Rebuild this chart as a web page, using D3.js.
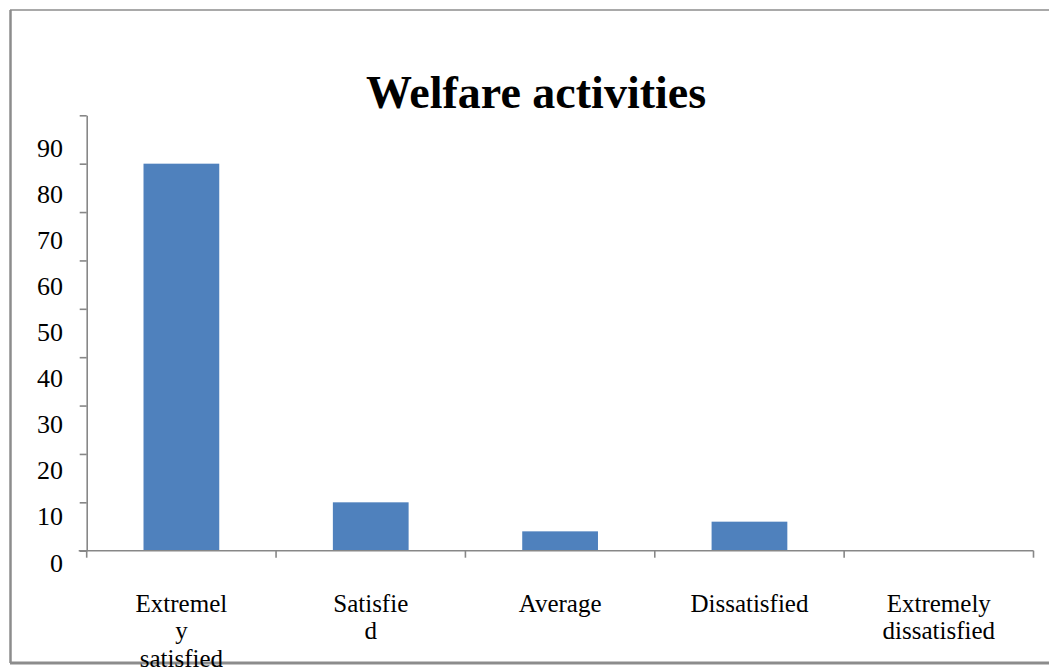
<!DOCTYPE html>
<html>
<head>
<meta charset="utf-8">
<script src="https://cdn.jsdelivr.net/npm/d3@7"></script>
<style>
  html, body { margin: 0; padding: 0; background: #ffffff; }
  svg { display: block; }
  text { font-family: "Liberation Serif", "Times New Roman", serif; fill: #000; }
</style>
</head>
<body>
<svg id="chart" width="1049" height="671"></svg>
<script>
// Survey responses on welfare activities
const categories = ["Extremely satisfied", "Satisfied", "Average", "Dissatisfied", "Extremely dissatisfied"];
const categoryLines = [["Extremel", "y", "satisfied"], ["Satisfie", "d"], ["Average"], ["Dissatisfied"], ["Extremely", "dissatisfied"]];
const values = [80, 10, 4, 6, 0];
const yTicks = [0, 10, 20, 30, 40, 50, 60, 70, 80, 90];
const title = "Welfare activities";

const svg = d3.select("#chart");
const W = 1049, H = 671;

const axisColor = "#878787";
const barColor = "#4F81BD";

// Outer frame: top, left and bottom edges
const frame = svg.append("g").attr("fill", "none").attr("stroke", "#8c8c8c");
frame.append("line").attr("x1", 10).attr("y1", 10).attr("x2", W).attr("y2", 10).attr("stroke-width", 1.5);
frame.append("line").attr("x1", 10.5).attr("y1", 10).attr("x2", 10.5).attr("y2", 663).attr("stroke-width", 2.5);
frame.append("line").attr("x1", 10).attr("y1", 663).attr("x2", W).attr("y2", 663).attr("stroke-width", 3);

// Plot area
const plot = { left: 86.7, right: 1033.5, top: 115.3, bottom: 550.7 };

const x = d3.scaleBand().domain(categories).range([plot.left, plot.right]).paddingInner(0).paddingOuter(0);
const y = d3.scaleLinear().domain([0, 90]).range([plot.bottom, plot.top]);
// Value labels sit on their own, slightly tighter spacing
const yLabel = d3.scaleLinear().domain([0, 90]).range([571.5, 156.5]);

// Title
svg.append("text")
  .attr("x", 536)
  .attr("y", 108)
  .attr("text-anchor", "middle")
  .attr("font-weight", "bold")
  .attr("font-size", 46)
  .text(title);

// Bars
const barW = x.bandwidth() * 0.4;
svg.append("g").selectAll("rect")
  .data(values.map((v, i) => ({ cat: categories[i], v })))
  .join("rect")
  .attr("x", d => x(d.cat) + (x.bandwidth() - barW) / 2)
  .attr("y", d => y(d.v))
  .attr("width", barW)
  .attr("height", d => y(0) - y(d.v))
  .attr("fill", barColor);

// Y axis with outward ticks
const yAxis = svg.append("g")
  .attr("transform", `translate(${plot.left},0)`)
  .call(d3.axisLeft(y).tickValues(yTicks).tickSize(7).tickSizeOuter(0).tickFormat(""));
yAxis.select(".domain").attr("stroke", axisColor).attr("stroke-width", 1.6);
yAxis.selectAll(".tick line").attr("stroke", axisColor).attr("stroke-width", 1.6);

svg.append("g").selectAll("text")
  .data(yTicks)
  .join("text")
  .attr("x", 63)
  .attr("y", d => yLabel(d))
  .attr("text-anchor", "end")
  .attr("font-size", 26)
  .text(d => d);

// X axis: baseline with ticks on category boundaries
const boundaries = categories.map(c => x(c)).concat([x(categories[categories.length - 1]) + x.bandwidth()]);
const xAxis = svg.append("g").attr("transform", `translate(0,${plot.bottom})`);
xAxis.append("line")
  .attr("x1", plot.left - 8).attr("x2", plot.right)
  .attr("y1", 0).attr("y2", 0)
  .attr("stroke", axisColor).attr("stroke-width", 1.6);
xAxis.selectAll("line.tick")
  .data(boundaries)
  .join("line")
  .attr("class", "tick")
  .attr("x1", d => d).attr("x2", d => d)
  .attr("y1", 0).attr("y2", 7)
  .attr("stroke", axisColor).attr("stroke-width", 1.6);

// Category labels, wrapped
const labels = svg.append("g").selectAll("text")
  .data(categories)
  .join("text")
  .attr("text-anchor", "middle")
  .attr("font-size", 25)
  .attr("x", d => x(d) + x.bandwidth() / 2)
  .attr("y", 611.5);
labels.each(function(d, i) {
  const t = d3.select(this);
  const cx = x(d) + x.bandwidth() / 2;
  categoryLines[i].forEach((line, j) => {
    t.append("tspan").attr("x", cx).attr("y", 611.5 + j * 27.8).text(line);
  });
});
</script>
</body>
</html>
